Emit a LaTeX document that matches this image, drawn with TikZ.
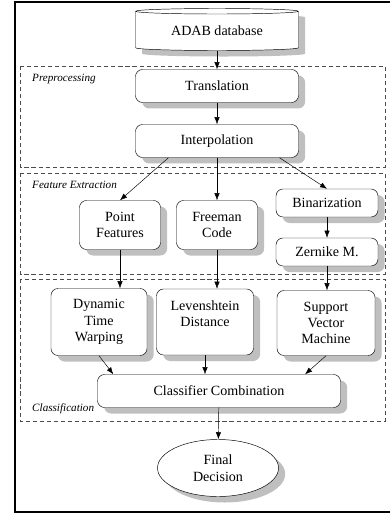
\documentclass[tikz,border=0pt]{standalone}
\usepackage{fontspec}
\setmainfont{Liberation Serif}
\usetikzlibrary{shapes.geometric,shadows,calc,arrows.meta}
\tikzset{
  shade/.style={drop shadow={shadow xshift=0.2cm, shadow yshift=-0.18cm, fill=gray!50, opacity=1}},
  stage/.style={draw, thin, fill=white, rounded corners=6pt, align=center, inner sep=0pt,
    font=\fontsize{12}{14}\selectfont, shade},
  group/.style={draw, dash pattern=on 3.5pt off 2.5pt, line width=0.8pt, black!70},
  grouplabel/.style={anchor=west, inner sep=0pt, font=\fontsize{9.5}{11}\selectfont\itshape},
  flow/.style={-{Latex[length=6pt,width=4.5pt]}, thin}
}

\begin{document}
\begin{tikzpicture}[x=0.03cm, y=-0.03cm]
        \useasboundingbox (0,0) rectangle (390,515);
        % frame
        \draw[line width=2pt] (390,2) -- (15,2) -- (15,512) -- (390,512);

        % groups
        \draw[group] (20,66) rectangle (385,167);
        \draw[group] (20,173) rectangle (385,274);
        \draw[group] (20,279) rectangle (385,421);
        \node[grouplabel] (lpre) at (32,79) {Preprocessing};
        \node[grouplabel] (lfeat) at (32,185) {Feature Extraction};
        \node[grouplabel] (lclass) at (32,409) {Classification};

        % stages
        \node[cylinder, shape border rotate=90, aspect=0.06, draw, thin, fill=white,
              minimum width=4.89cm, minimum height=1.26cm, inner sep=0pt,
              font=\fontsize{12}{14}\selectfont, shade] (db) at (217,31) {ADAB database};
        \node[stage, minimum width=4.89cm, minimum height=0.99cm] (trans) at (217,86) {Translation};
        \node[stage, minimum width=4.89cm, minimum height=0.99cm] (interp) at (217,141) {Interpolation};

        \node[stage, minimum width=2.43cm, minimum height=1.47cm] (pf) at (120,225) {Point\\Features};
        \node[stage, minimum width=2.43cm, minimum height=1.47cm] (free) at (217,225) {Freeman\\Code};
        \node[stage, minimum width=3.06cm, minimum height=0.84cm] (bin) at (327,203) {Binarization};
        \node[stage, minimum width=3.06cm, minimum height=0.84cm] (zern) at (327,252) {Zernike M.};

        \node[stage, minimum width=2.88cm, minimum height=2.01cm] (dtw) at (99,322) {Dynamic\\Time\\Warping};
        \node[stage, minimum width=2.91cm, minimum height=1.98cm] (lev) at (205,322) {Levenshtein\\Distance\\\mbox{}};
        \node[stage, minimum width=2.94cm, minimum height=1.95cm] (svm) at (326,323) {Support\\Vector\\Machine};
        \node[stage, minimum width=7.29cm, minimum height=0.99cm] (cc) at (219,391) {Classifier Combination};

        \node[ellipse, draw, thin, fill=white, minimum width=3.63cm, minimum height=1.71cm,
              inner sep=0pt, align=center, font=\fontsize{12}{14}\selectfont, shade] (fd) at (218,468) {Final\\Decision};

        % connectors
        \draw[flow] (db.south) -- (trans.north);
        \draw[flow] (trans) -- (interp);
        \draw[flow] (interp.199) -- (pf.north);
        \draw[flow] (interp.south) -- (free.north);
        \draw[flow] (interp.345) -- (bin.north);
        \draw[flow] (bin) -- (zern);
        \draw[flow] (pf.south) -- (pf.south |- dtw.north);
        \draw[flow] (free.south) -- (free.south |- lev.north);
        \draw[flow] (zern.south) -- (zern.south |- svm.north);
        \draw[flow] (dtw.south) -- (cc.171);
        \draw[flow] (lev.south) -- (lev.south |- cc.north);
        \draw[flow] (svm.south) -- (cc.11);
        \draw[flow] (cc) -- (fd);
\end{tikzpicture}
\end{document}
